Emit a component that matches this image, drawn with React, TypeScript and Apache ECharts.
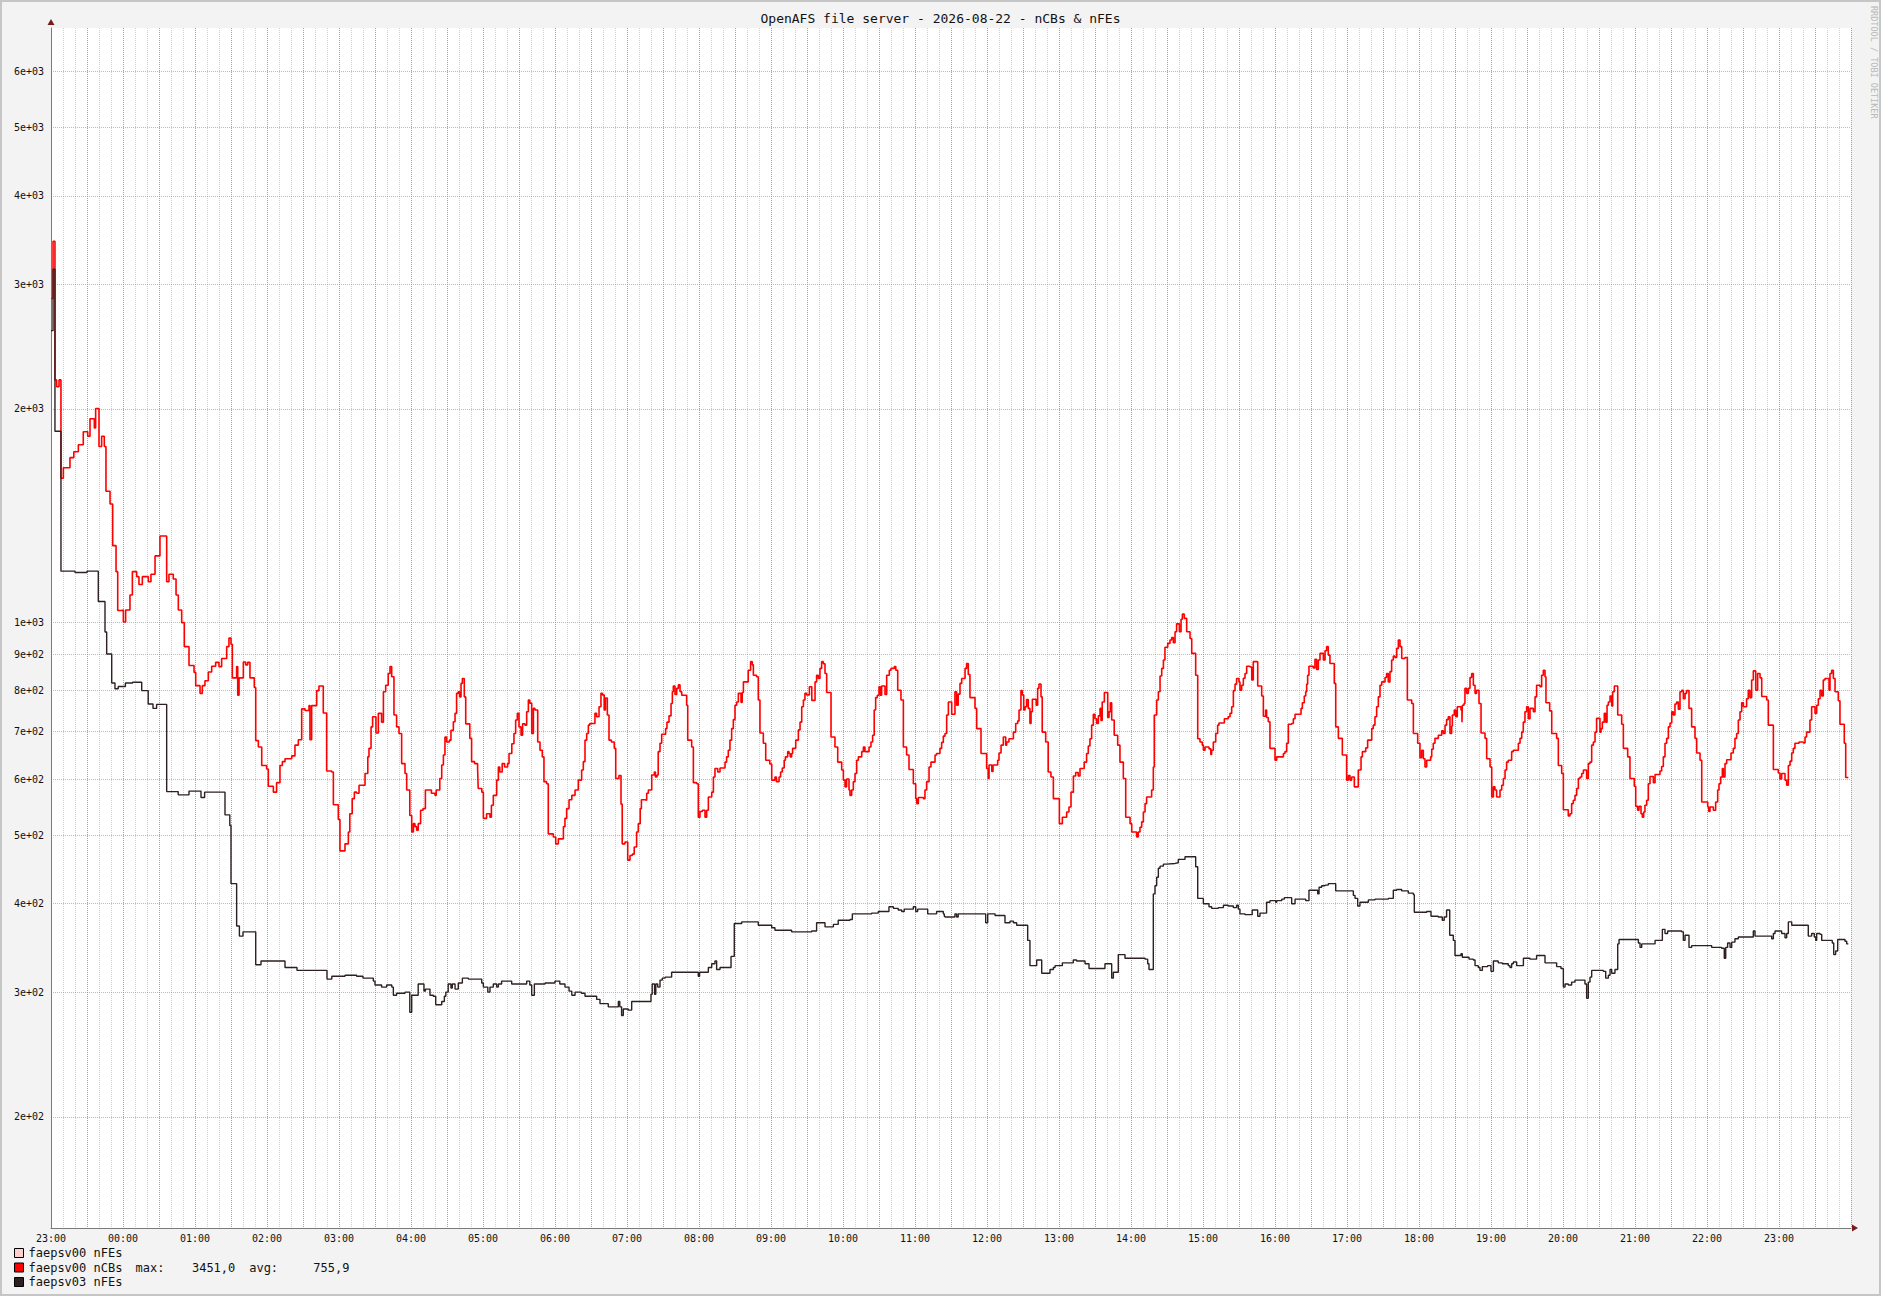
import React, { useEffect, useRef } from "react";
import * as echarts from "echarts";

const TITLE = "OpenAFS file server - 2026-08-22 - nCBs & nFEs";
const WATERMARK = "RRDTOOL / TOBI OETIKER";
const START_HOUR = 23; // x = minutes since 23:00
const X_MAX = 1500;
const Y_MIN = 139.3;
const Y_MAX = 6905;
const yTickValues = [200, 300, 400, 500, 600, 700, 800, 900, 1000, 2000, 3000, 4000, 5000, 6000];

const legendNames = ["faepsv00 nFEs", "faepsv00 nCBs", "faepsv03 nFEs"];
const legendColors = ["#ffcfcf", "#ff0000", "#2e2020"];
const nCBsMax = "3451,0";
const nCBsAvg = "755,9";

// faepsv00 nFEs : no data drawn
const nFEs00: [number, number][] = [];

// faepsv00 nCBs  [minutes since 23:00, value]
const nCBs00: [number, number][] = [
  [0,2865],[1.7,3451],[3.3,2198],[4.7,2150],[6.7,2198],[8.3,1596],[10.3,1652],[15.8,1707],[19,1740],[22.8,1780],[26.9,1857],[30.6,1830],[32.5,1937],[36.1,1880],[37.2,2003],[40,1770],[42.2,1830],[44.4,1770],[45.8,1530],[49.2,1468],[51.4,1282],[54.2,1178],[55.6,1038],[58.9,1040],[60.3,1000],[62.2,1040],[65.8,1092],[67.8,1178],[71.4,1159],[73.3,1130],[76.1,1159],[81.1,1140],[83.3,1168],[86.7,1240],[90.8,1323],[96.4,1140],[98.3,1168],[101.9,1150],[104.2,1092],[106.1,1040],[108.9,998],[111.1,923],[115,868],[119.2,849],[120.6,813],[124.2,793],[126.1,813],[128.3,826],[131.1,850],[133.9,866],[137.2,877],[140,865],[142.2,888],[146.4,923],[148.3,949],[150,930],[151.1,834],[154.7,865],[155.6,788],[156.7,834],[160.3,878],[162.2,870],[163.9,877],[165.8,834],[169.4,808],[170.6,680],[172.8,666],[175.6,627],[179.7,620],[181.1,586],[185.3,575],[188,593],[190.8,627],[192.8,635],[195,641],[200.6,647],[203.3,670],[206.1,682],[208.9,754],[211.7,750],[215,762],[215.8,682],[217.2,762],[221.4,800],[223.3,812],[226.9,744],[229.7,616],[233.9,614],[235.3,552],[239.4,526],[240.8,475],
  [245,486],[247.8,505],[249,536],[251,563],[252.8,575],[254.7,573],[256.7,588],[261.7,611],[264,645],[265,663],[266.7,711],[268,735],[270.8,697],[272.8,743],[275.5,722],[277,797],[278.9,814],[281,846],[282.5,865],[283.9,837],[285.8,739],[288,711],[290,696],[292.2,631],[295,611],[296.4,579],[299,533],[300.6,505],[302,519],[303.3,514],[304.7,508],[306,519],[308,542],[310,545],[312,579],[315,579],[317,573],[320,569],[321,579],[324,601],[325.6,628],[327,649],[328.3,688],[329.7,677],[332,681],[333.3,703],[335.3,723],[336.7,743],[338,793],[339.4,797],[340.5,784],[341.7,819],[342.8,832],[344.4,784],[345.6,718],[349,685],[350.5,635],[353,631],[355.5,621],[356,582],[359,575],[360.3,528],[363,536],[365.8,530],[367,551],[368.6,569],[371.4,598],[372.8,624],[374,614],[376,631],[378,624],[380.5,631],[381.7,652],[384,673],[385.8,696],[387.2,727],[388.6,743],[390,711],[391.7,692],[393,718],[395,715],[396.4,747],[397.8,776],[399,768],[400.6,696],[402,755],[403.3,751],[405.6,677],[407.5,659],[409.4,645],[410.8,595],[413,591],[414.4,502],[418.6,497],[420.6,486],[422.8,494],[427,514],[428.3,528],[429.7,545],[431.7,561],[434,569],[436.7,579],[439.4,598],[442.2,618],[443.6,635],[445,681],[446.4,696],[447.8,715],[449,719],[452,719],[453.3,743],[454.7,735],[456.7,759],[458.3,793],[459.5,789],[461,751],[462,781],[463.6,739],[465,681],[467,677],[469.4,663],[470.6,601],[473.3,607],[475,553],[476,486],[478.3,489],[480.6,461],[482.5,468],[484.4,470],[486,481],[488,505],[489.4,519],[491,545],[492,561],
  [495,560],[496.4,573],[497.8,579],[500.6,608],[502.8,614],[503.7,604],[505,608],[506,656],[507.5,674],[508.9,694],[512.2,707],[513.3,722],[515,737],[516.7,767],[517.8,797],[518.6,812],[520,790],[521.4,806],[522.8,815],[524.2,797],[525.6,788],[529.7,763],[530.6,681],[533.9,666],[535.3,593],[538,591],[539.4,530],[540.8,540],[542.8,542],[545,530],[546.4,542],[547.8,566],[550.6,575],[552,604],[553.3,621],[555.6,614],[557.5,622],[561.7,634],[563,645],[564.4,659],[565.8,681],[567.2,707],[568.6,728],[570,763],[571.4,771],[572.8,793],[575,770],[576,795],[577,823],[579.5,823],[581,855],[583,879],[584.4,870],[585.3,841],[588,837],[589.4,776],[590.8,697],[593.6,674],[595.6,638],[599,630],[600.6,598],[602,598],[603.3,604],[604.5,595],[606.7,604],[608,614],[609.4,622],[611,638],[612,645],[613.9,656],[615,652],[616,645],[617.2,652],[618,663],[620.6,681],[622.8,704],[624.2,722],[625.6,759],[627,776],[628.3,793],[629.7,789],[632,810],[634,775],[636.7,823],[638,841],[639.4,832],[640.8,860],[642.2,879],[643.6,873],[645,846],[646.4,795],[650,688],[653.3,666],[655.6,634],[658.9,618],[660.3,598],[661.7,585],[663,600],[665,579],[665.8,569],[667.2,579],[668.6,595],[670,611],[671.4,638],[672.8,645],[675.6,656],[677,666],[678.3,656],[681.7,666],[683.3,677],[684.7,692],[686,751],[687.2,782],[688.6,788],[690,810],[691,788],[692.2,812],[695,790],[696.4,841],[698.6,855],[700,860],[702.8,865],[704,855],[705.6,801],[708.3,776],[710.3,666],[713,649],[715,619],[718.6,591],[720.6,563],[721.5,554],[722.8,565],[727,563],[728.3,579],[729.7,595],[731.7,624],[733.3,634],[736.7,649],[738,652],[740.8,663],[742.2,676],[743.6,690],
  [745,696],[746.4,739],[747.8,771],[750.6,741],[753.3,797],[754.7,763],[756,791],[757.5,819],[758.9,832],[761.7,860],[763,874],[764.4,843],[765.8,782],[770,755],[771.4,707],[775,652],[779.7,621],[781,601],[781.7,628],[784,615],[785,628],[787.2,628],[788.9,638],[790,653],[791.7,670],[793.6,688],[795.6,670],[796.4,677],[798.3,684],[802,699],[803.9,719],[805.6,725],[806.7,751],[808.3,800],[809.4,789],[810.6,751],[811.7,759],[813,777],[814.4,755],[815.8,719],[816.7,747],[817.8,778],[821,763],[822.2,806],[823.3,817],[825,784],[826,699],[828.9,677],[831,614],[833.3,604],[835.3,563],[840.3,519],[842.8,530],[846.4,539],[848.3,548],[850,575],[852,606],[853.9,613],[856,606],[857.5,621],[861,634],[863,652],[864.4,668],[865.8,684],[867.2,715],[868.6,741],[870,730],[871.4,719],[872.8,737],[874.2,755],[875,726],[876,771],[877.8,795],[880.6,733],[881.7,747],[882.8,769],[883.9,727],[886,692],[888.9,670],[890.8,634],[893.6,601],[895.6,530],[899.2,519],[900.6,505],[904.7,497],[906,505],[907.5,513],[908.9,522],[910.3,539],[911.7,554],[913,566],[917.2,579],[918.6,624],[919.4,739],[921.4,776],[922.8,797],[924.2,839],[925.6,860],[927,884],[928.3,921],[930.6,933],[932.5,943],[933.9,951],[935.3,935],[936.7,969],[938,994],[940.3,969],[941.7,1009],[942.8,1026],[944.4,1012],[946.4,969],[949.2,948],[950.6,903],[953.9,841],[955.6,684],[957.5,677],[959.4,670],[960.3,659],[961.7,666],[965,662],[966.5,650],[967.2,659],[968.6,677],[970.6,696],[972.2,715],[973.3,720],[977.8,730],[981,735],[982.5,743],[983.9,759],[985.3,800],[986.7,817],[988,832],[990,823],[990.8,801],[992.2,814],[993.6,833],
  [995,846],[996.4,866],[999.2,864],[1000.6,828],[1001.9,879],[1005.6,812],[1008.9,786],[1010.3,736],[1012.2,751],[1013,733],[1014.4,723],[1015.8,663],[1020,638],[1021.4,645],[1027,652],[1028.3,656],[1029.7,674],[1031.1,717],[1033.9,719],[1035.3,730],[1036.7,741],[1041.7,755],[1042.8,769],[1044.4,786],[1045.6,797],[1046.4,817],[1047.2,841],[1048.3,866],[1051.9,861],[1053.3,886],[1054.7,857],[1056.1,884],[1057.5,903],[1060.3,884],[1061.7,911],[1063,923],[1064.4,898],[1065.8,874],[1069.4,819],[1070.6,711],[1072.8,685],[1076.1,649],[1079.7,598],[1081.1,607],[1082.5,598],[1083.9,604],[1086.1,585],[1089.4,618],[1091.7,645],[1092.8,656],[1095.6,664],[1097.2,681],[1100.6,707],[1101.9,715],[1103.3,735],[1104.7,759],[1106.1,784],[1107.5,814],[1108.9,823],[1111.7,835],[1113,846],[1114.4,823],[1115.8,851],[1117.2,884],[1118.6,895],[1120,891],[1121.4,918],[1122.8,943],[1124.2,923],[1125.6,888],[1128.3,891],[1130.3,776],[1133.9,767],[1135.3,696],[1138.9,674],[1140.8,643],[1142.2,659],[1143.6,641],[1145,624],[1146.4,638],[1149.7,645],[1150.6,661],[1151.9,674],[1153.3,685],[1156.1,692],[1158.9,702],[1160.3,696],[1161.7,715],[1163,728],[1164.4,735],[1165.8,696],[1167.2,713],[1167.8,739],[1169.4,751],[1170.6,735],[1171.9,759],[1175,751],[1175.8,722],[1176.1,763],[1177.5,767],[1178.3,806],[1179.7,793],[1181.1,806],[1182.5,835],[1183.9,846],[1185.3,814],[1186.7,793],[1188,801],[1190,767],[1191.7,697],[1195,685],[1196.4,641],[1199.2,624],[1200.6,566],[1202,585],[1203.3,579],[1204.7,566],[1207.5,579],[1208.9,588],[1210.3,601],[1211.7,618],[1213,634],[1214.4,638],[1217.2,656],[1218.6,659],[1222.8,674],[1224.2,685],[1225.6,699],[1226.9,722],[1228.3,747],[1229.7,759],[1231.1,730],[1232.5,755],[1235.3,747],[1236.7,784],[1238,814],[1240.8,810],[1242.2,841],[1243.6,855],
  [1245,837],[1245.8,769],[1248.9,749],[1250.6,696],[1254.7,685],[1256.1,627],[1258.9,611],[1260.3,543],[1264.4,532],[1265.8,536],[1267.2,554],[1268.6,560],[1270,569],[1271.4,582],[1272.8,601],[1274.2,604],[1275.6,611],[1277,618],[1279.7,601],[1281.1,631],[1282.5,634],[1283.9,670],[1285.3,677],[1286.7,699],[1288,731],[1290.8,699],[1291.7,707],[1292.8,722],[1294.4,743],[1295.6,722],[1296.7,763],[1297.8,771],[1299.2,786],[1300.6,761],[1301.4,797],[1302.8,812],[1305.6,739],[1308.9,717],[1310.3,663],[1313.9,645],[1315.8,601],[1319.4,586],[1320.6,549],[1322.2,542],[1323.3,549],[1325,536],[1326.1,530],[1327.2,539],[1328.3,551],[1329.7,560],[1331.1,591],[1332.5,605],[1335.3,593],[1336.7,609],[1340.8,616],[1342.2,625],[1343.6,645],[1345,674],[1346.4,685],[1347.8,711],[1349.2,720],[1350.6,747],[1351.9,739],[1353.3,766],[1354.7,771],[1356.1,753],[1357.5,797],[1358.9,801],[1360.3,779],[1361.7,793],[1363,800],[1365,755],[1367.2,711],[1370,685],[1371.4,653],[1374.2,638],[1375.6,557],[1380.6,548],[1381.5,540],[1382.5,548],[1385.3,542],[1387.2,557],[1388.9,579],[1390,591],[1391.4,604],[1392.8,621],[1393.6,604],[1395,631],[1396.4,639],[1400,653],[1401.9,663],[1403.3,685],[1404.7,696],[1406.1,727],[1407.5,747],[1408.9,769],[1410.3,759],[1413,779],[1414.4,801],[1415.8,782],[1417.2,828],[1418.6,853],[1420.6,801],[1422.2,846],[1424.2,834],[1425.6,785],[1429.7,776],[1431.1,715],[1435.3,619],[1439.4,612],[1440.8,600],[1442.2,611],[1445,598],[1446.4,588],[1447.8,627],[1449.2,636],[1450.6,653],[1451.9,663],[1453.3,674],[1456.7,677],[1460.3,675],[1461.7,688],[1463,699],[1465.8,727],[1467.2,759],[1470,743],[1471.4,763],[1472.8,779],[1474.2,801],[1475.6,786],[1476.9,828],[1478.3,832],[1481.7,801],[1482.5,846],[1483.9,855],[1485.3,832],[1486.7,797],[1489.4,774],[1490.8,717],[1494.4,674],[1495.6,603],[1497.8,603],
];

// faepsv03 nFEs  [minutes since 23:00, value]
const nFEs03: [number, number][] = [
  [0,2580],[1.7,3150],[3.3,1860],[8.3,1180],[20,1175],[30,1180],[39.4,1069],[45,968],[46.4,901],[50.6,820],[53.3,805],[56,811],[62,820],[68,822],[75.6,800],[81,766],[85,755],[88,765],[96.4,576],[106,570],[115,577],[125,565],[128,575],[145,534],[149,516],[150,427],[154.7,372],[157,360],[160,365],[170.6,328],[175,332],[195,325],[205,322],[230,313],[234,316],[240,316],
  [245,317],[254.7,316],[260,314],[268.6,311],[270,307],[275.5,305],[279.7,307],[284,305],[285.3,297],[288,299],[295,300],[299,281],[300.6,297],[306,308],[310.8,301],[312,303],[315.8,297],[318.6,296],[320.6,288],[325.6,291],[327.8,296],[329,300],[331,308],[333.3,304],[334.4,308],[336.7,303],[339.4,309],[342.8,314],[347.8,313],[358.9,309],[360.3,305],[364,300],[365.8,305],[368.6,308],[371.4,305],[372.8,308],[375.5,311],[383.9,308],[396.4,311],[399,307],[400.6,297],[402.8,308],[411.7,309],[420,311],[424,308],[428.3,305],[431.7,301],[434,297],[436.7,300],[442,299],[445,296],[454.7,293],[457.5,289],[464.4,286],[472.8,291],[474,286],[475.5,278],[476.9,284],[481,283],[483.9,291],[497.8,291],
  [500,298],[501,308],[503,298],[504,308],[505.6,305],[507.5,312],[509.4,314],[511.7,315],[517.2,320],[538,320],[539.4,316],[540.5,320],[547.8,325],[550.6,329],[553.3,332],[554.7,323],[557.5,325],[566.7,337],[569.4,375],[575.6,377],[583.9,377],[589.4,373],[600.6,370],[603.3,367],[617.2,365],[633.9,366],[638,376],[645,371],[652,374],[656,379],[665.8,380],[667.8,387],[683.9,388],[689.4,390],[698.3,396],[702,394],[706,392],[708.9,390],[711,393],[718.6,396],[720.6,390],[722.2,393],[730.6,387],[738,390],[743.6,387],[744.4,384],
  [745,383],[753.3,387],[754.7,383],[756,387],[778.9,376],[780.6,387],[786.7,385],[795,376],[799.2,378],[802,376],[804.7,373],[813.9,355],[815.8,327],[821.4,333],[825.6,319],[832.5,323],[835.3,325],[836.7,327],[842.8,330],[851.9,333],[854.7,332],[861.7,329],[865,324],[878.3,329],[883.9,314],[885.3,320],[889.4,339],[895,335],[911.7,334],[913.9,329],[915,323],[918.6,413],[920,424],[921.4,436],[922.8,449],[924.2,452],[927,455],[929.7,456],[936.7,457],[939.4,462],[945,466],[952.8,466],[953.9,451],[955.6,407],[960.3,400],[965,396],[967.2,394],[972.8,395],[977,398],[981,397],[985.3,395],[988,398],[989.4,393],[990.8,387],
  [995,386],[1001,392],[1005.6,384],[1007.5,388],[1013,402],[1015.8,404],[1020.6,402],[1021.4,404],[1025.6,406],[1027.8,408],[1033.9,400],[1036.7,406],[1045.6,404],[1048.3,418],[1055.6,413],[1056.7,422],[1058.9,424],[1061.7,425],[1064.4,427],[1070.6,417],[1083.9,417],[1085.3,411],[1086.7,407],[1088.9,397],[1090.8,402],[1097.8,405],[1103.3,406],[1114.4,407],[1118.6,418],[1121.4,419],[1125.6,417],[1131.1,414],[1135.3,412],[1136.1,389],[1146.4,390],[1150,384],[1156,383],[1159.4,379],[1161,383],[1163,392],[1165.6,361],[1168.6,355],[1170,338],[1175,340],[1176.1,336],[1181.7,334],[1185.3,333],[1186.7,327],[1189.4,325],[1190.8,322],[1192.8,326],[1197.2,327],[1200,321],[1202,332],[1206,330],[1209.4,329],[1214.4,327],[1215.8,325],[1217.2,329],[1218.6,331],[1221.4,327],[1227,335],[1232.5,334],[1238,338],
  [1245,330],[1254.7,326],[1258.3,324],[1260.3,305],[1261.7,308],[1264.4,307],[1267.2,310],[1270,312],[1278.3,308],[1279.7,294],[1281.1,310],[1282.5,315],[1283.9,322],[1291.7,322],[1293.6,321],[1295.6,314],[1297.8,317],[1299.2,323],[1300.6,319],[1303.3,323],[1305.6,351],[1306.7,356],[1322.8,352],[1324.2,347],[1325.6,351],[1336.7,355],[1342.8,368],[1345,363],[1347.2,366],[1358.9,365],[1360.3,355],[1361.7,361],[1365,347],[1367.2,349],[1383.9,347],[1392.2,346],[1394.4,335],[1395.6,347],[1397.2,352],[1399.2,347],[1400.6,353],[1403.3,357],[1406.1,359],[1418.6,366],[1420,360],[1433.9,357],[1435.3,363],[1436.7,366],[1442.2,363],[1445,358],[1446.4,363],[1447.8,377],[1450.6,373],[1464.4,360],[1467.2,363],[1469.4,359],[1470.6,355],[1471.4,363],[1474.2,362],[1475.6,355],[1484.4,352],[1485.6,339],[1487.2,343],[1488.9,356],[1495,354],[1496.4,351],[1497.8,351],
];

const MONO = "'DejaVu Sans Mono', 'Liberation Mono', monospace";
const MAJOR = "rgba(226, 90, 90, 0.55)";
const MINOR = "rgba(150, 150, 150, 0.45)";

function fmtY(v: number): string {
  const e = Math.floor(Math.log10(v) + 1e-9);
  const m = Math.round(v / Math.pow(10, e));
  return `${m}e+${String(e).padStart(2, "0")}`;
}

function fmtX(v: number): string {
  if (v % 60 !== 0 || v >= X_MAX) return "";
  const h = (START_HOUR + v / 60) % 24;
  return `${String(h).padStart(2, "0")}:00`;
}

export default function App() {
  const ref = useRef<HTMLDivElement>(null);

  useEffect(() => {
    if (!ref.current) return;
    const chart = echarts.init(ref.current, undefined, { renderer: "svg" });
    const gridLeft = 51, gridTop = 28, gridRight = 30, gridBottom = 68;
    const W = 1881, H = 1296;
    const axisY = H - gridBottom;
    const axisXEnd = W - gridRight;

    const option: any = {
      animation: false,
      backgroundColor: "#f3f3f3",
      title: {
        text: TITLE,
        left: "center",
        top: 12,
        padding: 0,
        textStyle: { fontFamily: MONO, fontSize: 13, fontWeight: "normal", color: "#111" },
      },
      grid: {
        left: gridLeft, top: gridTop, right: gridRight, bottom: gridBottom,
        show: true, backgroundColor: "#ffffff", borderWidth: 0,
      },
      legend: {
        orient: "vertical",
        left: 14,
        top: 1246,
        padding: 0,
        itemWidth: 9,
        itemHeight: 9,
        itemGap: 0.5,
        icon: "rect",
        selectedMode: false,
        data: legendNames.map((n, i) => ({
          name: n,
          itemStyle: { color: legendColors[i], borderColor: "#000", borderWidth: 1 },
        })),
        formatter: (name: string) =>
          name === legendNames[1]
            ? `{n|${name}}{k|max:}{v|${nCBsMax}}{a|avg:}{w|${nCBsAvg}}`
            : `{n|${name}}`,
        textStyle: {
          fontFamily: MONO, fontSize: 12, color: "#111", lineHeight: 14,
          rich: {
            n: { fontFamily: MONO, fontSize: 12, color: "#111", width: 107 },
            k: { fontFamily: MONO, fontSize: 12, color: "#111", width: 28.5 },
            v: { fontFamily: MONO, fontSize: 12, color: "#111", width: 71.3, align: "right" },
            a: { fontFamily: MONO, fontSize: 12, color: "#111", width: 42.8, align: "right" },
            w: { fontFamily: MONO, fontSize: 12, color: "#111", width: 71.3, align: "right" },
          },
        },
      },
      xAxis: [
        {
          type: "value", position: "bottom", offset: 0, min: 0, max: X_MAX, interval: 10,
          axisLine: { show: true, onZero: false, lineStyle: { color: "#7a7a7a", width: 1 } },
          axisTick: { show: false }, axisLabel: { show: false },
          splitLine: { show: true, lineStyle: { color: MINOR, width: 1, type: [1, 1] } },
        },
        {
          type: "value", position: "bottom", offset: 0, min: 0, max: X_MAX, interval: 30,
          axisLine: { show: false, onZero: false }, axisTick: { show: false }, axisLabel: { show: false },
          splitLine: { show: true, lineStyle: { color: MAJOR, width: 1, type: [1, 1] } },
        },
        {
          type: "value", position: "bottom", offset: 0, min: 0, max: X_MAX, interval: 60,
          axisLine: { show: false, onZero: false }, axisTick: { show: false },
          splitLine: { show: false },
          axisLabel: {
            show: true, formatter: fmtX, margin: 5, showMaxLabel: false,
            fontFamily: MONO, fontSize: 10, color: "#111",
          },
        },
      ],
      yAxis: {
        type: "log", logBase: 10, min: Y_MIN, max: Y_MAX,
        axisLine: { show: true, lineStyle: { color: "#7a7a7a", width: 1 } },
        axisTick: { show: false, customValues: yTickValues },
        axisLabel: {
          show: true, customValues: yTickValues, formatter: fmtY, margin: 7,
          fontFamily: MONO, fontSize: 10, color: "#111",
        },
        splitLine: { show: true, customValues: yTickValues, lineStyle: { color: MAJOR, width: 1, type: [1, 1] } },
        minorSplitLine: { show: false },
      },
      series: [
        {
          name: legendNames[0], type: "line", step: "end", showSymbol: false, symbol: "none",
          data: nFEs00, itemStyle: { color: legendColors[0] }, lineStyle: { color: legendColors[0], width: 1.5 },
        },
        {
          name: legendNames[1], type: "line", step: "end", showSymbol: false, symbol: "none",
          data: nCBs00, itemStyle: { color: legendColors[1] }, lineStyle: { color: legendColors[1], width: 1.6 },
        },
        {
          name: legendNames[2], type: "line", step: "end", showSymbol: false, symbol: "none",
          data: nFEs03, itemStyle: { color: legendColors[2] }, lineStyle: { color: legendColors[2], width: 1.4 },
        },
      ],
      graphic: [
        {
          type: "rect", silent: true, z: 100,
          shape: { x: 1, y: 1, width: W - 2, height: H - 2 },
          style: { fill: "none", stroke: "#c6c6c6", lineWidth: 2 },
        },
        {
          type: "polygon", silent: true, z: 100,
          shape: { points: [[gridLeft - 3.5, gridTop - 3], [gridLeft + 3.5, gridTop - 3], [gridLeft, gridTop - 9]] },
          style: { fill: "#7a1a1a" },
        },
        {
          type: "polygon", silent: true, z: 100,
          shape: { points: [[axisXEnd + 1, axisY - 3.5], [axisXEnd + 1, axisY + 3.5], [axisXEnd + 7, axisY]] },
          style: { fill: "#7a1a1a" },
        },
        {
          type: "text", silent: true, z: 100,
          x: 1874, y: 6, rotation: -Math.PI / 2,
          style: {
            text: WATERMARK, fontFamily: MONO, fontSize: 8.5, fill: "#b8b8b8",
            align: "left", verticalAlign: "middle",
          },
        },
      ],
    };

    chart.setOption(option);
    return () => chart.dispose();
  }, []);

  return (
    <div
      ref={ref}
      style={{ position: "fixed", left: 0, top: 0, width: 1881, height: 1296 }}
    />
  );
}
